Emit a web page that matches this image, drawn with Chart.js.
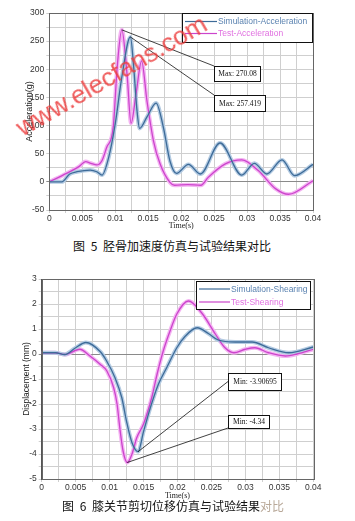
<!DOCTYPE html>
<html>
<head>
<meta charset="utf-8">
<script src="https://cdn.jsdelivr.net/npm/chart.js@4/dist/chart.umd.min.js"></script>
<style>
body{margin:0;background:#fff;width:355px;height:521px;position:relative;overflow:hidden;}
.box{position:absolute;left:0;width:355px;}
#b1{top:0;height:232px;}
#b2{top:262px;height:241px;}
.cap{position:absolute;font-family:"Noto Sans CJK SC";font-size:12px;color:#111;white-space:nowrap;word-spacing:3px;}
.cap .grey{color:#b8a898;}
.wm{position:absolute;left:26px;top:112px;font-family:"Liberation Sans";font-size:26px;color:rgba(236,60,60,0.85);transform-origin:0 100%;transform:rotate(-30deg);white-space:nowrap;pointer-events:none;}
</style>
</head>
<body>
<div class="box" id="b1"><canvas id="accChart"></canvas></div>
<div class="box" id="b2"><canvas id="shearChart"></canvas></div>
<div class="cap" style="left:73px;top:237px;">图 5 胫骨加速度仿真与试验结果对比</div>
<div class="cap" style="left:62px;top:497px;">图 6 膝关节剪切位移仿真与试验结果<span class="grey">对比</span></div>
<div class="wm">www.elecfans.com</div>
<script>
// fig 5 - tibia acceleration (g) vs time (s)
var accSimT = [0, 0.0019, 0.0031, 0.0042, 0.0062, 0.0072, 0.008, 0.009, 0.01, 0.011, 0.0123, 0.0128, 0.0133, 0.0137, 0.0148, 0.0162, 0.0173, 0.0183, 0.0193, 0.0211, 0.0229, 0.0259, 0.0292, 0.0311, 0.033, 0.0353, 0.0372, 0.04];
var accSimV = [0, 0, 14, 18, 21, 18, 12, 43, 103, 186, 257.419, 204, 127, 95, 115, 140, 97, 37, 15, 31, 14, 69, 12, 33, 14, 39, 11, 31];
var accTestT = [0, 0.0026, 0.0045, 0.0055, 0.0063, 0.0072, 0.008, 0.0087, 0.0097, 0.0103, 0.011, 0.0118, 0.0124, 0.0132, 0.014, 0.0148, 0.0158, 0.0168, 0.0183, 0.019, 0.021, 0.023, 0.0241, 0.0267, 0.0292, 0.0317, 0.0343, 0.0363, 0.04];
var accTestV = [0, 15, 27, 36, 33, 30, 38, 61, 97, 204, 270.08, 190, 104, 160, 215, 145, 73, 32, -1, -6, -5, -6, 8, 32, 39, 20, -12, -22, 2];

// fig 6 - knee shearing displacement (mm) vs time (s)
var shSimT = [0, 0.002, 0.0034, 0.0049, 0.0065, 0.0086, 0.0095, 0.0108, 0.0118, 0.0125, 0.0133, 0.0142, 0.015, 0.016, 0.0172, 0.0184, 0.0199, 0.0211, 0.0229, 0.0246, 0.026, 0.0285, 0.031, 0.0334, 0.0364, 0.04];
var shSimV = [0.05, 0.05, -0.02, 0.23, 0.46, 0.1, -0.25, -0.95, -1.75, -2.7, -3.55, -3.90695, -3.1, -2.15, -1.2, -0.55, 0.25, 0.7, 1.05, 0.81, 0.56, 0.48, 0.48, 0.25, 0.05, 0.28];
var shTestT = [0, 0.002, 0.0034, 0.0056, 0.0071, 0.0086, 0.0096, 0.0106, 0.0111, 0.0115, 0.012, 0.0126, 0.0133, 0.014, 0.015, 0.0162, 0.017, 0.0179, 0.0189, 0.0199, 0.0216, 0.0236, 0.0256, 0.027, 0.0283, 0.03, 0.0314, 0.0334, 0.0359, 0.0376, 0.04];
var shTestV = [0.05, 0.05, -0.02, 0.19, -0.08, -0.41, -0.68, -1.35, -2.0, -2.95, -3.9, -4.34, -4.0, -3.35, -2.8, -1.75, -0.8, 0.12, 0.92, 1.6, 2.12, 1.63, 0.79, 0.25, 0.05, 0.19, 0.25, 0.05, -0.08, 0, 0.19];

var timeTicks = [0, 0.005, 0.01, 0.015, 0.02, 0.025, 0.03, 0.035, 0.04];
var accTicks = [-50, 0, 50, 100, 150, 200, 250, 300];
var shTicks = [-5, -4, -3, -2, -1, 0, 1, 2, 3];

const BLUE = '#3d6b98', BLUE_HALO = '#b4cbe2';
const PINK = '#cc44cc', PINK_HALO = '#f4b4f2';

function pts(t, v) { return t.map((x, i) => ({x: x, y: v[i]})); }

function series(label, t, v, core, halo) {
  return [
    {label: label, data: pts(t, v), borderColor: core, borderWidth: 1.3, order: 1},
    {label: '', data: pts(t, v), borderColor: halo, borderWidth: 4, order: 2}
  ];
}

function extreme(t, v, useMax) {
  var k = 0;
  for (var i = 1; i < v.length; i++) {
    if (useMax ? v[i] > v[k] : v[i] < v[k]) k = i;
  }
  return {x: t[k], y: v[k]};
}

// legend box, call-out boxes and the plot frame
const extras = {
  id: 'extras',
  afterDatasetsDraw(chart, args, o) {
    const ctx = chart.ctx;
    const a = chart.chartArea;
    const sx = chart.scales.x, sy = chart.scales.y;
    ctx.save();
    ctx.strokeStyle = '#666';
    ctx.lineWidth = 1;
    ctx.strokeRect(Math.round(a.left) + 0.5, Math.round(a.top) + 0.5, Math.round(a.right - a.left), Math.round(a.bottom - a.top));

    o.callouts.forEach(function (c) {
      const px = sx.getPixelForValue(c.pt.x), py = sy.getPixelForValue(c.pt.y);
      ctx.strokeStyle = '#111';
      ctx.lineWidth = 0.8;
      ctx.beginPath();
      ctx.moveTo(px, py);
      ctx.lineTo(c.ax, c.ay);
      ctx.stroke();
      ctx.fillStyle = '#fff';
      ctx.fillRect(c.x, c.y, c.w, c.h);
      ctx.lineWidth = 1;
      ctx.strokeRect(c.x + 0.5, c.y + 0.5, c.w, c.h);
      ctx.fillStyle = '#111';
      ctx.font = '7.5px "Liberation Serif"';
      ctx.textAlign = 'center';
      ctx.textBaseline = 'middle';
      ctx.fillText(c.text, c.x + c.w / 2 + 0.5, c.y + c.h / 2 + 1);
    });

    const L = o.legend;
    ctx.fillStyle = '#fff';
    ctx.fillRect(L.x, L.y, L.w, L.h);
    ctx.strokeStyle = '#111';
    ctx.lineWidth = 1;
    ctx.strokeRect(L.x + 0.5, L.y + 0.5, L.w, L.h);
    const rows = chart.data.datasets.filter(d => d.label);
    rows.forEach(function (d, i) {
      const y = L.y + L.row0 + i * L.gap;
      ctx.strokeStyle = d.borderColor;
      ctx.lineWidth = 1.2;
      ctx.beginPath();
      ctx.moveTo(L.x + 3, y);
      ctx.lineTo(L.x + L.line, y);
      ctx.stroke();
      ctx.fillStyle = i == 0 ? '#5a82b0' : '#e070e0';
      ctx.font = '8.5px "Liberation Sans"';
      ctx.textAlign = 'left';
      ctx.textBaseline = 'middle';
      ctx.fillText(d.label, L.x + L.line + 1, y + 0.5);
    });
    ctx.restore();
  }
};

function fmtTime(v) { return String(parseFloat(v.toFixed(4))); }

function makeChart(id, cfg) {
  return new Chart(document.getElementById(id), {
    type: 'line',
    data: {datasets: cfg.datasets},
    options: {
      responsive: true,
      maintainAspectRatio: false,
      animation: false,
      events: [],
      elements: {point: {radius: 0}, line: {cubicInterpolationMode: 'monotone', fill: false}},
      layout: {padding: cfg.padding},
      plugins: {legend: {display: false}, tooltip: {enabled: false}, extras: cfg.extras},
      scales: {
        x: {
          type: 'linear', min: 0, max: 0.04,
          ticks: {
            stepSize: 0.0025, autoSkip: false, maxRotation: 0, padding: 1,
            color: '#333', font: {family: 'Liberation Sans', size: 8.5},
            callback: v => timeTicks.some(t => Math.abs(t - v) < 1e-7) ? fmtTime(v) : ''
          },
          grid: {color: '#cfcfcf', tickLength: 3},
          border: {color: '#555'},
          title: {display: true, text: 'Time(s)', color: '#222', font: {family: 'Liberation Serif', size: 8}, padding: {top: 0, bottom: cfg.xTitlePad}},
          afterFit: s => { s.height = cfg.xHeight; }
        },
        y: {
          min: cfg.ymin, max: cfg.ymax,
          ticks: {
            stepSize: cfg.ystep, autoSkip: false, padding: 2,
            color: '#333', font: {family: 'Liberation Sans', size: 8.5},
            callback: v => cfg.yTicks.indexOf(Math.round(v * 100) / 100) >= 0 ? String(v) : ''
          },
          grid: {color: c => c.tick && c.tick.value === 0 ? '#8a8a8a' : '#cfcfcf', tickLength: 3},
          border: {color: '#555'},
          title: {display: true, text: cfg.ytitle, color: '#222', font: {family: 'Liberation Sans', size: cfg.ytitleSize}, padding: {top: 0, bottom: 0}},
          afterFit: s => { s.width = cfg.yWidth; }
        }
      }
    },
    plugins: [extras]
  });
}

var accMaxTest = extreme(accTestT, accTestV, true);
var accMaxSim = extreme(accSimT, accSimV, true);
makeChart('accChart', {
  datasets: series('Simulation-Acceleration', accSimT, accSimV, BLUE, BLUE_HALO)
    .concat(series('Test-Acceleration', accTestT, accTestV, PINK, PINK_HALO)),
  padding: {left: 24, top: 13, right: 42, bottom: 0},
  yWidth: 25.3, xHeight: 22, xTitlePad: 1,
  ymin: -50, ymax: 300, ystep: 25, yTicks: accTicks,
  ytitle: 'Acceleration(g)', ytitleSize: 9,
  extras: {
    legend: {x: 182, y: 13, w: 130, h: 29, row0: 8.5, gap: 12, line: 35},
    callouts: [
      {pt: accMaxTest, text: 'Max: ' + accMaxTest.y, x: 214, y: 66, w: 46, h: 15, ax: 214, ay: 66},
      {pt: accMaxSim, text: 'Max: ' + accMaxSim.y, x: 214, y: 95, w: 51, h: 16, ax: 214, ay: 95}
    ]
  }
});

var shMinSim = extreme(shSimT, shSimV, false);
var shMinTest = extreme(shTestT, shTestV, false);
makeChart('shearChart', {
  datasets: series('Simulation-Shearing', shSimT, shSimV, BLUE, BLUE_HALO)
    .concat(series('Test-Shearing', shTestT, shTestV, PINK, PINK_HALO)),
  padding: {left: 22, top: 17, right: 41.7, bottom: 0},
  yWidth: 19.7, xHeight: 24, xTitlePad: 2,
  ymin: -5, ymax: 3, ystep: 0.5, yTicks: shTicks,
  ytitle: 'Displacement (mm)', ytitleSize: 8.5,
  extras: {
    legend: {x: 196, y: 19, w: 114, h: 28, row0: 8, gap: 13, line: 34},
    callouts: [
      {pt: shMinSim, text: 'Min: ' + shMinSim.y, x: 228, y: 111, w: 53, h: 17, ax: 228, ay: 119.5},
      {pt: shMinTest, text: 'Min: ' + shMinTest.y, x: 228, y: 153, w: 41, h: 13, ax: 228, ay: 166}
    ]
  }
});
</script>
</body>
</html>
